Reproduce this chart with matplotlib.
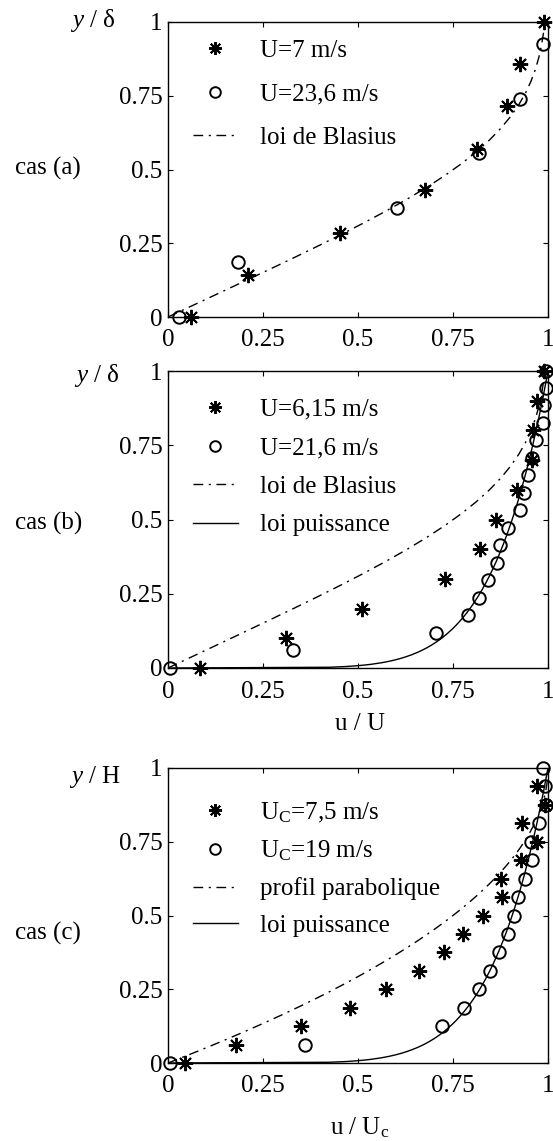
import numpy as np
import matplotlib
matplotlib.use("Agg")
import matplotlib.pyplot as plt

plt.rcParams['font.family'] = ['Liberation Serif', 'DejaVu Serif']
plt.rcParams['mathtext.fontset'] = 'custom'
plt.rcParams['mathtext.rm'] = 'Liberation Serif'
plt.rcParams['mathtext.it'] = 'Liberation Serif:italic'
plt.rcParams['font.size'] = 18

# cas (a)
a_star_u = [0.06, 0.211, 0.453, 0.676, 0.812, 0.891, 0.926, 0.99]
a_star_y = [0, 0.143, 0.286, 0.429, 0.571, 0.714, 0.857, 1.0]
a_circ_u = [0.03, 0.185, 0.602, 0.819, 0.926, 0.986]
a_circ_y = [0, 0.185, 0.37, 0.555, 0.74, 0.925]

# cas (b)
b_star_u = [0.084, 0.31, 0.51, 0.73, 0.82, 0.863, 0.918, 0.957, 0.961, 0.972, 0.99]
b_star_y = [0, 0.1, 0.2, 0.3, 0.4, 0.5, 0.6, 0.7, 0.8, 0.9, 1.0]
b_circ_u = [0.005, 0.33, 0.705, 0.79, 0.818, 0.843, 0.865, 0.874, 0.896, 0.926,
            0.937, 0.948, 0.957, 0.968, 0.986, 0.99, 0.996, 0.996]
b_circ_y = [0, 0.059, 0.118, 0.177, 0.236, 0.295, 0.354, 0.413, 0.472, 0.531,
            0.59, 0.649, 0.708, 0.767, 0.826, 0.885, 0.944, 1.0]

# cas (c)
c_star_u = [0.045, 0.18, 0.35, 0.48, 0.573, 0.66, 0.726, 0.777, 0.828, 0.878,
            0.876, 0.928, 0.972, 0.931, 0.992, 0.970]
c_star_y = [0, 0.0625, 0.125, 0.1875, 0.25, 0.3125, 0.375, 0.4375, 0.5, 0.5625,
            0.625, 0.6875, 0.75, 0.8125, 0.875, 0.9375]
c_circ_u = [0.005, 0.36, 0.72, 0.78, 0.818, 0.847, 0.871, 0.896, 0.91, 0.921,
            0.94, 0.958, 0.954, 0.975, 0.995, 0.992, 0.986]
c_circ_y = [0, 0.0625, 0.125, 0.1875, 0.25, 0.3125, 0.375, 0.4375, 0.5, 0.5625,
            0.625, 0.6875, 0.75, 0.8125, 0.875, 0.9375, 1.0]

# solution de Blasius (table f'(eta)), y/delta = eta/5
blasius_eta = [0.0, 0.2, 0.4, 0.6, 0.8, 1.0, 1.2, 1.4, 1.6, 1.8, 2.0, 2.2, 2.4,
               2.6, 2.8, 3.0, 3.2, 3.4, 3.6, 3.8, 4.0, 4.2, 4.4, 4.6, 4.8, 5.0]
blasius_fp = [0.0, 0.06641, 0.13277, 0.19894, 0.26471, 0.32979, 0.39378, 0.45627,
              0.51676, 0.57477, 0.62977, 0.68132, 0.72899, 0.77246, 0.81152,
              0.84605, 0.87609, 0.90177, 0.92333, 0.94112, 0.95552, 0.96696,
              0.97587, 0.98269, 0.98779, 0.99155]
blasius_y = np.array(blasius_eta) / 5.0

# loi puissance 1/7 et profil parabolique
eta = np.linspace(0, 1, 400)
puiss_u = eta ** (1.0 / 7.0)
parab_u = 1 - (1 - eta) ** 2

star = (8, 2, 0)
dd = (7, 4, 1.5, 4)
H = 1141.0
W = 553.0

fig = plt.figure(figsize=(5.53, 11.41), dpi=100)

def make_ax(top, bot):
    ax = fig.add_axes([168 / W, 1 - bot / H, 380 / W, (bot - top) / H])
    ax.set_xlim(0, 1)
    ax.set_ylim(0, 1)
    ax.set_xticks([0, 0.25, 0.5, 0.75, 1])
    ax.set_yticks([0, 0.25, 0.5, 0.75, 1])
    ax.set_xticklabels(['0', '0.25', '0.5', '0.75', '1'])
    ax.set_yticklabels(['0', '0.25', '0.5', '0.75', '1'])
    ax.tick_params(direction='in', top=True, right=True, length=3.5, width=0.8)
    ax.tick_params(axis='y', pad=4)
    ax.tick_params(axis='x', pad=9)
    for s in ax.spines.values():
        s.set_linewidth(1.0)
    return ax

def pts(ax, u, y, mk, ms, lab):
    ax.plot(u, y, linestyle='none', marker=mk, ms=ms, mfc='none', mec='k',
            mew=1.4, color='k', clip_on=False, label=lab, zorder=3)

def leg(ax, ytop, sp):
    ax.legend(loc='upper left', bbox_to_anchor=(0.032, ytop), frameon=False,
              borderpad=0, labelspacing=sp, handlelength=1.8,
              handletextpad=0.9, markerscale=0.85)

# (a)
ax1 = make_ax(22, 317)
pts(ax1, a_star_u, a_star_y, star, 11, 'U=7 m/s')
pts(ax1, a_circ_u, a_circ_y, 'o', 9, 'U=23,6 m/s')
ax1.plot(blasius_fp, blasius_y, color='k', lw=1.0, dashes=dd, label='loi de Blasius')
leg(ax1, 0.983, 0.83)

# (b)
ax2 = make_ax(371, 668)
pts(ax2, b_star_u, b_star_y, star, 11, 'U=6,15 m/s')
pts(ax2, b_circ_u, b_circ_y, 'o', 9, 'U=21,6 m/s')
ax2.plot(blasius_fp, blasius_y, color='k', lw=1.0, dashes=dd, label='loi de Blasius')
ax2.plot(puiss_u, eta, color='k', lw=1.0, label='loi puissance')
leg(ax2, 0.95, 0.64)

# (c)
ax3 = make_ax(768, 1063)
pts(ax3, c_star_u, c_star_y, star, 11, r'U$_\mathrm{C}$=7,5 m/s')
pts(ax3, c_circ_u, c_circ_y, 'o', 9, r'U$_\mathrm{C}$=19 m/s')
ax3.plot(parab_u, eta, color='k', lw=1.0, dashes=dd, label='profil parabolique')
ax3.plot(puiss_u, eta, color='k', lw=1.0, label='loi puissance')
leg(ax3, 0.932, 0.56)

# textes
fig.text(93 / W, 1 - 20 / H, r'$y$ / δ', ha='center', va='center')
fig.text(48 / W, 1 - 168 / H, 'cas (a)', ha='center', va='center')
fig.text(97 / W, 1 - 375 / H, r'$y$ / δ', ha='center', va='center')
fig.text(49 / W, 1 - 523 / H, 'cas (b)', ha='center', va='center')
fig.text(95 / W, 1 - 777 / H, r'$y$ / H', ha='center', va='center')
fig.text(48 / W, 1 - 933 / H, 'cas (c)', ha='center', va='center')
fig.text(360 / W, 1 - 724 / H, 'u / U', ha='center', va='center')
fig.text(360 / W, 1 - 1128 / H, r'u / U$_\mathrm{c}$', ha='center', va='center')

fig.savefig('out.png', dpi=100)
